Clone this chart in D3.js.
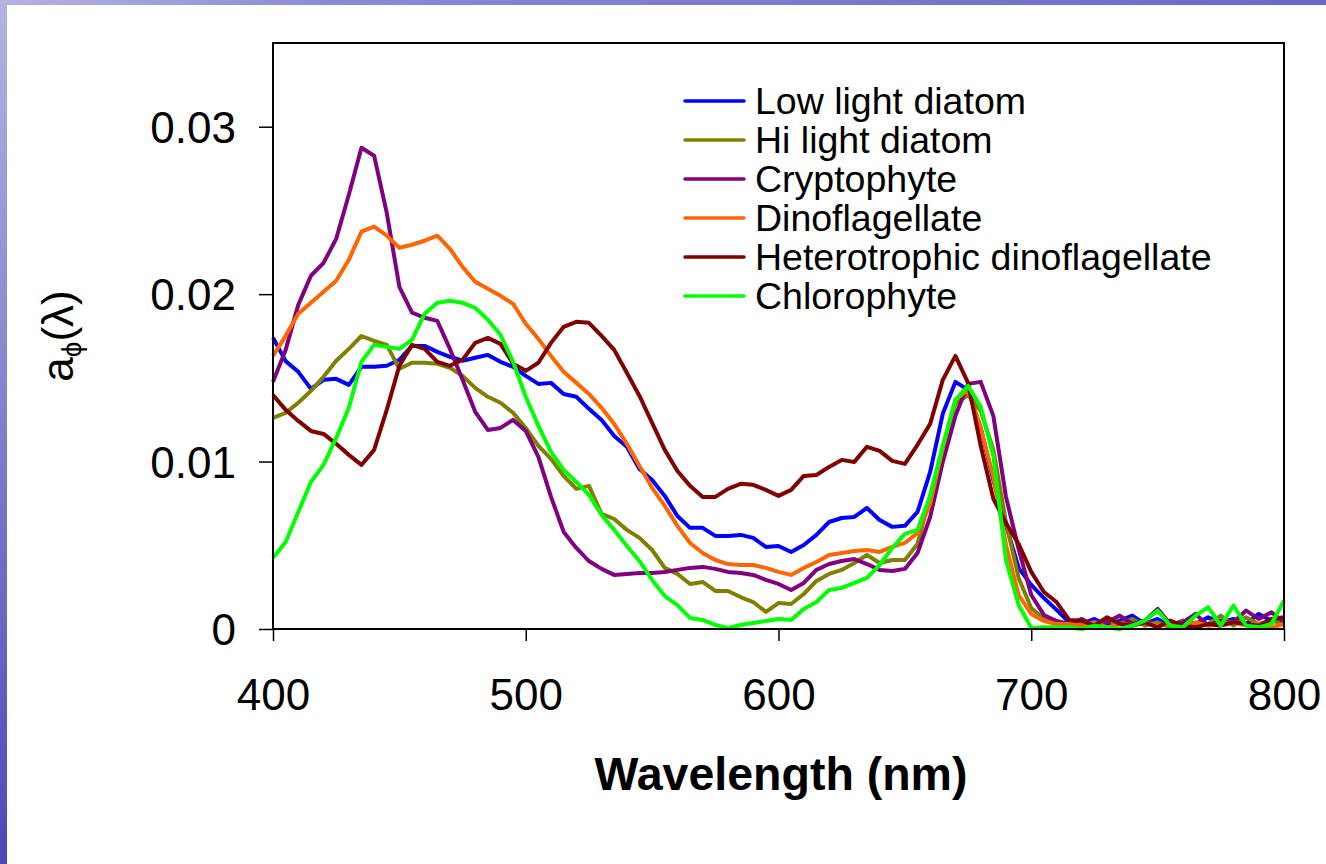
<!DOCTYPE html>
<html>
<head>
<meta charset="utf-8">
<script src="https://d3js.org/d3.v7.min.js"></script>
<style>
    body { margin: 0; background: #ffffff; }
    svg { display: block; }
    text { font-family: "Liberation Sans", Arial, sans-serif; fill: #000; }
</style>
</head>
<body>
<script>
//wrap everything in a self-executing anonymous function
(function(){

//wavelengths (nm) shared by every series
var wavelengths = [400,405,410,415,420,425,430,435,440,445,450,455,460,465,470,475,480,485,490,495,
    500,505,510,515,520,525,530,535,540,545,550,555,560,565,570,575,580,585,590,595,
    600,605,610,615,620,625,630,635,640,645,650,655,660,665,670,675,680,685,690,695,
    700,705,710,715,720,725,730,735,740,745,750,755,760,765,770,775,780,785,790,795,800];

var lowLightDiatom = [0.0174,0.0160,0.01536,0.01434,0.01488,0.01494,0.01458,0.01566,0.01566,0.01572,0.01608,0.01691,0.01691,0.01655,0.01626,0.01602,0.0162,0.01637,0.01596,0.01566,
    0.01512,0.01464,0.0147,0.01404,0.01387,0.01315,0.01249,0.01153,0.01088,0.00956,0.0089,0.00795,0.00675,0.00604,0.00604,0.00556,0.00556,0.00562,0.00544,0.0049,
    0.00496,0.0046,0.00502,0.00562,0.00639,0.00663,0.00669,0.00723,0.00651,0.0061,0.00616,0.00699,0.00938,0.01285,0.01476,0.01428,0.01201,0.0089,0.00622,0.00365,
    0.00263,0.00185,0.00114,0.0004,0.0003,0.0006,0.0002,0.0005,0.0008,0.0003,0.0006,0.0002,0.0005,0.0003,0.0007,0.0004,0.0006,0.0003,0.0009,0.0005,0.0005];

var hiLightDiatom = [0.01261,0.01291,0.01351,0.01422,0.01506,0.01602,0.01673,0.0175,0.01721,0.01697,0.01554,0.0159,0.0159,0.01584,0.0156,0.01512,0.0144,0.01387,0.01351,0.01291,
    0.01201,0.01094,0.01016,0.00914,0.00837,0.00855,0.00687,0.00657,0.00592,0.00544,0.00472,0.00365,0.00329,0.00269,0.00281,0.00227,0.00227,0.00191,0.00161,0.00102,
    0.00155,0.00149,0.00209,0.00287,0.00329,0.00353,0.00394,0.00442,0.00394,0.00412,0.00412,0.00508,0.00795,0.01082,0.01345,0.01398,0.01303,0.0107,0.00639,0.00305,
    0.00125,0.0006,0.0003,0.0002,0.0004,0.0001,0.0005,0.0003,0.0006,0.0002,0.0004,0.0001,0.0005,0.0002,0.0003,0.0008,0.0002,0.0007,0.0003,0.0005,0.0003];

var cryptophyte = [0.01476,0.01667,0.01936,0.0211,0.02187,0.0233,0.02594,0.02874,0.02827,0.02486,0.02044,0.01889,0.01859,0.0184,0.01673,0.01488,0.01297,0.01189,0.01201,0.01249,
    0.01183,0.01028,0.00789,0.0058,0.00484,0.00406,0.00359,0.00323,0.00329,0.00335,0.00335,0.00341,0.00353,0.00365,0.00371,0.00359,0.00341,0.00335,0.00323,0.00293,
    0.00269,0.00233,0.00275,0.00353,0.00388,0.00406,0.00418,0.00388,0.00353,0.00347,0.00359,0.00454,0.00669,0.00998,0.01273,0.01464,0.01476,0.01273,0.00789,0.00478,
    0.00203,0.00084,0.00048,0.0003,0.0006,0.0002,0.0004,0.0008,0.0003,0.0005,0.0012,0.0003,0.0004,0.0009,0.0002,0.0005,0.0004,0.0011,0.0006,0.0010,0.0004];

var dinoflagellate = [0.01631,0.01751,0.01883,0.01948,0.02014,0.0208,0.02205,0.02373,0.02403,0.02349,0.02277,0.02295,0.02319,0.02349,0.02271,0.02163,0.02074,0.02032,0.0199,0.01942,
    0.01823,0.01733,0.01631,0.01536,0.0147,0.01404,0.01321,0.01225,0.01106,0.00974,0.00843,0.00735,0.00616,0.00514,0.00454,0.00412,0.00388,0.00382,0.00382,0.00365,
    0.00341,0.00323,0.00365,0.004,0.00442,0.00454,0.00466,0.00472,0.0046,0.0049,0.00514,0.00574,0.00747,0.01082,0.01369,0.01428,0.01201,0.00908,0.00502,0.00203,
    0.0009,0.00048,0.0003,0.0003,0.0002,0.0004,0.0001,0.0003,0.0002,0.0004,0.0002,0.0003,0.0001,0.0004,0.0002,0.0003,0.0004,0.0002,0.0003,0.0001,0.0003];

var heteroDinoflagellate = [0.01398,0.01309,0.01243,0.01183,0.01165,0.01106,0.0104,0.0098,0.0107,0.01309,0.01572,0.01697,0.01673,0.01596,0.01572,0.01608,0.01709,0.01739,0.01703,0.01584,
    0.01542,0.0159,0.01709,0.01805,0.01835,0.01829,0.01751,0.01667,0.0153,0.01392,0.01231,0.0107,0.00944,0.00855,0.00789,0.00789,0.00837,0.00867,0.00861,0.00831,
    0.00795,0.00831,0.00914,0.0092,0.00968,0.0101,0.00998,0.01088,0.01064,0.01004,0.00986,0.011,0.01225,0.01488,0.01631,0.0147,0.01094,0.00777,0.00633,0.00508,
    0.00341,0.00221,0.00161,0.00054,0.0005,0.0002,0.0007,0.0003,0.0002,0.0004,0.0001,0.0005,0.0002,0.0001,0.0003,0.0002,0.0004,0.0003,0.0002,0.0006,0.0007];

var chlorophyte = [0.00424,0.0052,0.00699,0.00878,0.0098,0.01141,0.01321,0.01596,0.01697,0.01685,0.01673,0.01727,0.01883,0.01948,0.0196,0.01948,0.01918,0.01847,0.01757,0.01596,
    0.01387,0.01213,0.01058,0.0095,0.00878,0.00801,0.00681,0.00592,0.00496,0.00406,0.00293,0.00197,0.00143,0.00066,0.00054,0.00024,0.00006,0.00024,0.00036,0.00048,
    0.0006,0.00054,0.0012,0.00161,0.00233,0.00245,0.00275,0.00305,0.00382,0.00484,0.00568,0.00592,0.00795,0.01094,0.01369,0.01452,0.01327,0.01034,0.00412,0.00143,
    0.00006,0.0001,0.0001,0.0001,0.0000,0.0002,0.0001,0.0000,0.0002,0.0005,0.0011,0.0002,0.0001,0.0008,0.0013,0.0002,0.0014,0.0002,0.0001,0.0003,0.0017];

var seriesNames = ["Low light diatom", "Hi light diatom", "Cryptophyte", "Dinoflagellate", "Heterotrophic dinoflagellate", "Chlorophyte"];
var seriesValues = [lowLightDiatom, hiLightDiatom, cryptophyte, dinoflagellate, heteroDinoflagellate, chlorophyte];
var seriesColors = ["#0000ff", "#808000", "#800080", "#ff6600", "#800000", "#00ff00"];

var xTicks = [400, 500, 600, 700, 800];
var yTicks = [0, 0.01, 0.02, 0.03];

window.onload = drawChart();

function drawChart(){

    var width = 1326,
        height = 864;

    //plot frame in pixels
    var left = 273, right = 1284, top = 43, bottom = 629;

    var svg = d3.select("body")
        .append("svg")
        .attr("width", width)
        .attr("height", height);

    //slide border (blue gradient on top and left)
    var defs = svg.append("defs");
    var topGrad = defs.append("linearGradient").attr("id", "topGrad");
    topGrad.append("stop").attr("offset", "0%").attr("stop-color", "#b4b3e2");
    topGrad.append("stop").attr("offset", "25%").attr("stop-color", "#8c89d4");
    topGrad.append("stop").attr("offset", "100%").attr("stop-color", "#6b67c8");
    var leftGrad = defs.append("linearGradient").attr("id", "leftGrad")
        .attr("x1", 0).attr("y1", 0).attr("x2", 0).attr("y2", 1);
    leftGrad.append("stop").attr("offset", "0%").attr("stop-color", "#b4b3e2");
    leftGrad.append("stop").attr("offset", "40%").attr("stop-color", "#8a88d0");
    leftGrad.append("stop").attr("offset", "100%").attr("stop-color", "#4b48b8");

    svg.append("rect").attr("x", 0).attr("y", 0).attr("width", width).attr("height", 5)
        .attr("fill", "url(#topGrad)");
    svg.append("rect").attr("x", 0).attr("y", 0).attr("width", 7).attr("height", height)
        .attr("fill", "url(#leftGrad)");

    var x = d3.scaleLinear().domain([400, 800]).range([left, right]);
    var y = d3.scaleLinear().domain([0, 0.035]).range([bottom, top]);

    //axes
    var xAxis = d3.axisBottom(x).tickValues(xTicks).tickSize(12).tickSizeOuter(0).tickPadding(38)
        .tickFormat(d3.format("d"));
    var yAxis = d3.axisLeft(y).tickValues(yTicks).tickSize(14).tickSizeOuter(0).tickPadding(23)
        .tickFormat(function(d){ return d === 0 ? "0" : d3.format(".2f")(d); });

    var gx = svg.append("g")
        .attr("transform", "translate(0," + bottom + ")")
        .call(xAxis);
    var gy = svg.append("g")
        .attr("transform", "translate(" + left + ",0)")
        .call(yAxis);

    [gx, gy].forEach(function(g){
        g.select(".domain").remove();
        g.selectAll(".tick line").attr("stroke", "#000").attr("stroke-width", 1.5);
        g.selectAll(".tick text")
            .style("font-family", "'Liberation Sans', Arial, sans-serif")
            .style("font-size", "44px")
            .attr("fill", "#000");
    });
    gy.selectAll(".tick text").attr("dy", "0.36em");

    //data lines
    var line = d3.line()
        .x(function(d){ return x(d[0]); })
        .y(function(d){ return y(d[1]); });

    seriesValues.forEach(function(vals, i){
        var pts = wavelengths.map(function(w, j){ return [w, vals[j]]; });
        svg.append("path")
            .datum(pts)
            .attr("fill", "none")
            .attr("stroke", seriesColors[i])
            .attr("stroke-width", 4)
            .attr("stroke-linejoin", "round")
            .attr("d", line);
    });

    //plot frame
    svg.append("rect")
        .attr("x", left).attr("y", top)
        .attr("width", right - left).attr("height", bottom - top)
        .attr("fill", "none")
        .attr("stroke", "#000")
        .attr("stroke-width", 2);

    //legend
    var legend = svg.append("g").attr("transform", "translate(685,101)");
    seriesNames.forEach(function(name, i){
        var row = legend.append("g").attr("transform", "translate(0," + (i * 39) + ")");
        row.append("line")
            .attr("x1", 0).attr("x2", 59)
            .attr("stroke", seriesColors[i])
            .attr("stroke-width", 3.5)
            .attr("stroke-linecap", "round");
        row.append("text")
            .attr("x", 70).attr("y", 13)
            .style("font-size", "37.5px")
            .text(name);
    });

    //axis titles
    svg.append("text")
        .attr("x", 781).attr("y", 790)
        .attr("text-anchor", "middle")
        .style("font-size", "46.5px")
        .style("font-weight", "bold")
        .text("Wavelength (nm)");

    var yTitle = svg.append("text")
        .attr("transform", "translate(73,336) rotate(-90)")
        .attr("text-anchor", "middle")
        .style("font-size", "44px");
    yTitle.append("tspan").text("a");
    yTitle.append("tspan").attr("dy", 8).style("font-size", "28px").text("\u03d5");
    yTitle.append("tspan").attr("dy", -8).text("(\u03bb)");
}

})();
</script>
</body>
</html>
